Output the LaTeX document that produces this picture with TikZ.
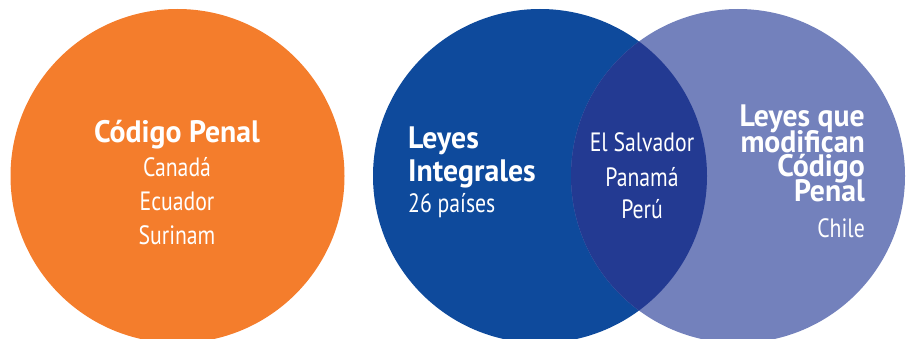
\documentclass[tikz,border=0pt]{standalone}
\usepackage{fontspec}
\setmainfont{PT Sans}[FakeStretch=0.82]
\newfontfamily\hdfamily{PT Sans}[FakeStretch=0.96]
\definecolor{corange}{HTML}{F47D2C}
\definecolor{cblue}{HTML}{0E4A9C}
\definecolor{cpurple}{HTML}{7381BC}
\definecolor{clens}{HTML}{233A92}
\tikzset{
  disc/.style={circle, minimum size=334pt, inner sep=0pt, draw=none},
  hd/.style={font=\hdfamily\bfseries\fontsize{31}{31}\selectfont, text=white, inner sep=0pt},
  tx/.style={font=\fontsize{26.5}{26.5}\selectfont, text=white, inner sep=0pt}
}
\begin{document}
\begin{tikzpicture}[x=1pt,y=-1pt]
\useasboundingbox (0,0) rectangle (913,339);
\clip (0,0) rectangle (913,339);
\node[disc, fill=corange] (orange) at (177.5,176) {};
\node[disc, fill=cblue] (blue) at (540,176) {};
\node[disc, fill=cpurple] (purple) at (738,176) {};
\begin{scope}
  \clip (738,176) circle (167pt);
  \fill[clens] (540,176) circle (167pt);
\end{scope}
% orange texts
\node[hd, anchor=base] (cp) at (177,143) {Código Penal};
\node[tx, anchor=base] (ca) at (177,177) {Canadá};
\node[tx, anchor=base] (ec) at (177,211) {Ecuador};
\node[tx, anchor=base] (su) at (177,244) {Surinam};
% blue texts
\node[hd, anchor=base west] (le) at (408,149) {Leyes};
\node[hd, anchor=base west] (in) at (408,182) {Integrales};
\node[tx, anchor=base west] (np) at (408,213) {26 países};
% lens texts
\node[tx, anchor=base] (es) at (642,152) {El Salvador};
\node[tx, anchor=base] (pa) at (642,187) {Panamá};
\node[tx, anchor=base] (pe) at (642,219) {Perú};
% purple texts
\node[hd, anchor=base east] (lq) at (865,127) {Leyes que};
\node[hd, anchor=base east] (mo) at (865,153) {modifican};
\node[hd, anchor=base east] (co) at (865,177) {Código};
\node[hd, anchor=base east] (pn) at (865,202) {Penal};
\node[tx, anchor=base east] (ch) at (865,238) {Chile};
\end{tikzpicture}
\end{document}
